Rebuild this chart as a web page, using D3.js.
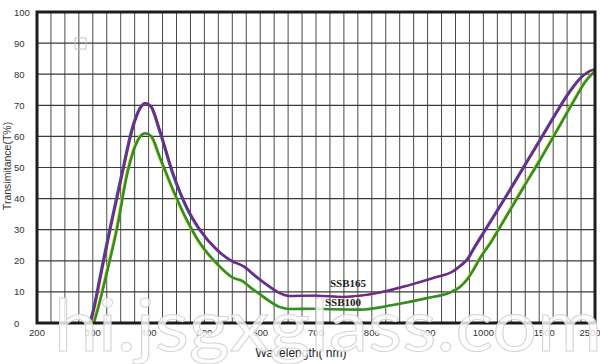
<!DOCTYPE html>
<html><head><meta charset="utf-8">
<script src="https://cdn.jsdelivr.net/npm/d3@7/dist/d3.min.js"></script>
<style>body{margin:0;background:#fff}svg{display:block}</style>
</head><body>
<svg id="c" width="600" height="364"></svg>
<script>
// ---- data ----
const xTickLabels = [200, 300, 400, 500, 600, 700, 800, 900, 1000, 1500, 2500];
const yTickLabels = [0, 10, 20, 30, 40, 50, 60, 70, 80, 90, 100];
const ssb165Wl = [295, 300, 315, 331, 354, 372, 385, 394, 405, 420, 444, 469, 492, 523, 551, 569, 594, 618, 636, 653, 700, 748, 809, 868, 917, 945, 960, 971, 985, 1000, 1215, 1358, 1518, 1823, 2056, 2290, 2470, 2500];
const ssb165T  = [0, 3, 16, 30, 49, 63, 69, 70.7, 69.5, 62, 48, 37, 30, 23.5, 19.8, 18.4, 14.8, 11.6, 9.6, 8.7, 8.8, 8.4, 9.6, 12.2, 14.8, 16.5, 18.5, 20.3, 24.5, 28.8, 41.3, 49.8, 58.8, 68, 74.5, 79.5, 81.4, 81.5];
const ssb100Wl = [302, 310, 325, 343, 363, 380, 394, 405, 420, 444, 469, 492, 523, 551, 567, 587, 600, 612, 636, 653, 695, 730, 779, 838, 899, 940, 958, 971, 982, 994, 1063, 1215, 1358, 1518, 1823, 2109, 2324, 2500];
const ssb100T  = [0, 5, 16, 30, 49, 58.5, 61, 60, 53.4, 42.8, 33, 25.7, 19, 14.6, 13.6, 10.8, 9.2, 7.6, 5.1, 4.5, 4.6, 4.4, 4.3, 5.8, 8, 9.8, 11.6, 14, 17, 20.8, 25.7, 34.8, 43.5, 52.5, 62, 71, 77.5, 81];
const seriesNames = ["SSB165", "SSB100"];

// ---- layout ----
const L = 37, R = 595, T = 12, B = 323;
const seg = (R - L) / 10;
const svg = d3.select("#c");
const x = d3.scaleLinear().domain([200, 1000, 1500, 2500]).range([L, L + 8 * seg, L + 9 * seg, R]);
const y = d3.scaleLinear().domain([0, 100]).range([B, T]);

// grid
const g = svg.append("g");
for (let i = 1; i < 40; i++) {
  const gx = L + i * (R - L) / 40;
  g.append("line").attr("x1", gx).attr("x2", gx).attr("y1", T).attr("y2", B)
    .attr("stroke", "#4a4a4a").attr("stroke-width", 1);
}
yTickLabels.forEach(v => {
  g.append("line").attr("x1", L).attr("x2", R).attr("y1", y(v)).attr("y2", y(v))
    .attr("stroke", "#3a3a3a").attr("stroke-width", 1.2);
});

// small square
svg.append("rect").attr("x", 75).attr("y", 38).attr("width", 11).attr("height", 11)
  .attr("fill", "none").attr("stroke", "#c4c4c4").attr("stroke-width", 1);

const line = d3.line().x(d => x(d[0])).y(d => y(d[1])).curve(d3.curveMonotoneX);
const d165 = ssb165Wl.map((w, i) => [w, ssb165T[i]]);
const d100 = ssb100Wl.map((w, i) => [w, ssb100T[i]]);

// lower (green with yellow edge)
svg.append("path").attr("d", line(d100)).attr("fill", "none")
  .attr("stroke", "#d6de10").attr("stroke-width", 1.6).attr("transform", "translate(-1.3,0)");
svg.append("path").attr("d", line(d100)).attr("fill", "none")
  .attr("stroke", "#2f8f22").attr("stroke-width", 2.6);
// upper (blue + magenta)
svg.append("path").attr("d", line(d165)).attr("fill", "none")
  .attr("stroke", "#3a48b0").attr("stroke-width", 2.4).attr("transform", "translate(-0.7,0)");
svg.append("path").attr("d", line(d165)).attr("fill", "none")
  .attr("stroke", "#8a1e70").attr("stroke-width", 1.6).attr("transform", "translate(0.6,0)");

// frame
svg.append("rect").attr("x", L).attr("y", T).attr("width", R - L).attr("height", B - T)
  .attr("fill", "none").attr("stroke", "#1c1c1c").attr("stroke-width", 3);

// tick labels
const tickShift = {1500: 5, 2500: -5};
svg.append("g").selectAll("text").data(xTickLabels).join("text")
  .attr("x", d => x(d) + (tickShift[d] || 0)).attr("y", 336).attr("text-anchor", "middle")
  .attr("font-family", "Liberation Sans, Arial, sans-serif").attr("font-size", 9.5)
  .attr("fill", "#333").text(d => d);
svg.append("g").selectAll("text").data(yTickLabels).join("text")
  .attr("x", 14).attr("y", d => y(d) + 3.5).attr("text-anchor", "start")
  .attr("font-family", "Liberation Sans, Arial, sans-serif").attr("font-size", 9.5)
  .attr("fill", "#333").text(d => d);

// axis titles
svg.append("text").attr("transform", "translate(11,166) rotate(-90)").attr("text-anchor", "middle")
  .attr("font-family", "Liberation Sans, Arial, sans-serif").attr("font-size", 10.5)
  .attr("fill", "#333").text("Transimitance(T%)");
svg.append("text").attr("x", 301).attr("y", 357).attr("text-anchor", "middle")
  .attr("font-family", "Liberation Sans, Arial, sans-serif").attr("font-size", 12)
  .attr("fill", "#222").text("Wavelength( nm)");

// series labels
svg.append("text").attr("x", 330).attr("y", 287)
  .attr("font-family", "Liberation Serif, Times New Roman, serif").attr("font-weight", "bold")
  .attr("font-size", 11).attr("fill", "#222").text(seriesNames[0]);
svg.append("text").attr("x", 325).attr("y", 306)
  .attr("font-family", "Liberation Serif, Times New Roman, serif").attr("font-weight", "bold")
  .attr("font-size", 11).attr("fill", "#222").text(seriesNames[1]);

// watermark
svg.append("text").attr("x", 54).attr("y", 351)
  .attr("font-family", "Lato, Open Sans, sans-serif").attr("font-weight", 400)
  .attr("font-size", 72).attr("textLength", 548).attr("lengthAdjust", "spacingAndGlyphs")
  .attr("fill", "#fff").attr("fill-opacity", 0.8).attr("stroke", "#d4d4d4").attr("stroke-width", 1)
  .text("hi.jsgxglass.com");
</script>
</body></html>
